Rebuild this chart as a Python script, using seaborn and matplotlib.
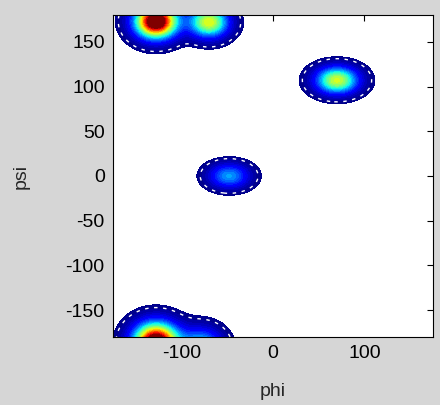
import numpy as np
import matplotlib
matplotlib.use("Agg")
import matplotlib.pyplot as plt
from matplotlib.colors import PowerNorm
import seaborn as sns

# Peak data: centres (phi, psi), heights, widths
peak_phi = [-128, -70, 70, -48, -128, -78]
peak_psi = [173, 172, 107, 0, -186, -192]
peak_height = [1.15, 0.72, 0.70, 0.40, 1.15, 0.52]
peak_sig_phi = [16.5, 15, 16.5, 15.5, 17.5, 15.5]
peak_sig_psi = [13.5, 12, 10.5, 9.5, 15.5, 14.5]

x_ticks = [-100, 0, 100]
y_ticks = [-150, -100, -50, 0, 50, 100, 150]

sns.set_style("white")
plt.rcParams['font.family'] = ['Liberation Sans', 'DejaVu Sans']
plt.rcParams['axes.unicode_minus'] = False

phi = np.linspace(-180, 180, 361)
psi = np.linspace(-180, 180, 361)
P, S = np.meshgrid(phi, psi)
Z = np.zeros_like(P)
for cx, cy, h, sx, sy in zip(peak_phi, peak_psi, peak_height, peak_sig_phi, peak_sig_psi):
    Z += h * np.exp(-0.5 * (((P - cx) / sx) ** 2 + ((S - cy) / sy) ** 2))

fig = plt.figure(figsize=(4.4, 4.05), dpi=100, facecolor='#d6d6d6')
ax = fig.add_axes([0.257, 0.168, 0.727, 0.795])
ax.set_facecolor('white')

thr = 0.03
levels = np.linspace(thr, Z.max() + 0.01, 32)
ax.contourf(P, S, Z, levels=levels, cmap='jet',
            norm=PowerNorm(gamma=1.4, vmin=0, vmax=1.0, clip=True))
ax.contour(P, S, Z, levels=[0.05], colors='white', linewidths=1.0,
           linestyles=[(0, (2.5, 4))])

ax.set_xlim(-175, 175)
ax.set_ylim(-180, 180)
ax.set_xticks(x_ticks)
ax.set_yticks(y_ticks)
ax.tick_params(direction='in', top=True, right=True, length=4, width=0.8,
               labelsize=14, colors='black', pad=6)
for sp in ax.spines.values():
    sp.set_color('black')
    sp.set_linewidth(0.8)
ax.set_xlabel('phi', fontsize=14, labelpad=15)
ax.set_ylabel('psi', fontsize=14, labelpad=26)

fig.savefig('out.png', dpi=100, facecolor=fig.get_facecolor())
